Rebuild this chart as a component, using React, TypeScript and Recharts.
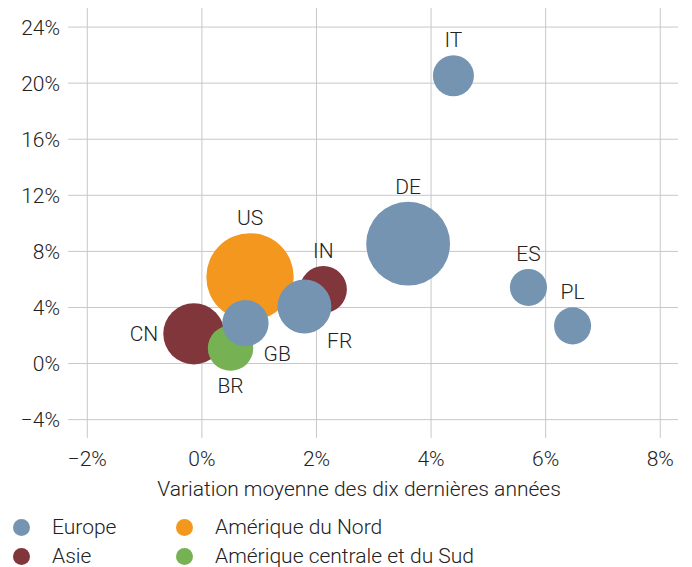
import { ScatterChart, Scatter, XAxis, YAxis, ZAxis, CartesianGrid } from 'recharts'

// position on the x axis: average change of the last ten years (%), y: current value (%), z: relative weight
const EUROPE = [
  { code: 'GB', x: 0.76, y: 2.88, z: 28 },
  { code: 'FR', x: 1.79, y: 4.07, z: 38 },
  { code: 'DE', x: 3.6, y: 8.55, z: 92 },
  { code: 'IT', x: 4.39, y: 20.53, z: 22 },
  { code: 'ES', x: 5.7, y: 5.43, z: 18 },
  { code: 'PL', x: 6.47, y: 2.69, z: 18 },
]
const ASIA = [
  { code: 'CN', x: -0.14, y: 2.12, z: 49 },
  { code: 'IN', x: 2.12, y: 5.28, z: 29 },
]
const NORTH_AMERICA = [{ code: 'US', x: 0.84, y: 6.18, z: 100 }]
const SOUTH_AMERICA = [{ code: 'BR', x: 0.5, y: 1.1, z: 27 }]

const X_TICKS = [-2, 0, 2, 4, 6, 8]
const Y_TICKS = [-4, 0, 4, 8, 12, 16, 20, 24]
const X_DOMAIN = [-2.337, 8.31]
const Y_DOMAIN = [-5.31, 25.36]

const COLORS = {
  europe: '#7594b2',
  asia: '#80363a',
  north: '#f4971f',
  south: '#76b153',
}

const LEGEND = [
  { name: 'Europe', color: COLORS.europe },
  { name: 'Amérique du Nord', color: COLORS.north },
  { name: 'Asie', color: COLORS.asia },
  { name: 'Amérique centrale et du Sud', color: COLORS.south },
]

// where each country code sits relative to its bubble
const LABEL_PLACE: Record<string, string> = {
  CN: 'left',
  BR: 'bottom',
  FR: 'bottomRight',
  GB: 'bottomRight',
}

const FONT = 'Roboto, "Noto Sans", sans-serif'
const TEXT = '#222'

const fmt = (v: number) => (v < 0 ? `\u2212${Math.abs(v)}%` : `${v}%`)

// grid lines only at the tick values, no frame round the plot
const gridX = ({ xAxis, offset }: any) =>
  X_TICKS.map((t) =>
    xAxis && typeof xAxis.scale === 'function'
      ? xAxis.scale(t)
      : offset.left + ((t - X_DOMAIN[0]) / (X_DOMAIN[1] - X_DOMAIN[0])) * offset.width
  )
const gridY = ({ yAxis, offset }: any) =>
  Y_TICKS.map((t) =>
    yAxis && typeof yAxis.scale === 'function'
      ? yAxis.scale(t)
      : offset.top + ((Y_DOMAIN[1] - t) / (Y_DOMAIN[1] - Y_DOMAIN[0])) * offset.height
  )

const CodeLabel = (props: any) => {
  const { cx, cy, payload, width, size } = props
  const r = width ? width / 2 : Math.sqrt((size || 0) / Math.PI)
  const place = LABEL_PLACE[payload.code] ?? 'top'
  let x = cx
  let y = cy - r - 15
  let anchor: 'middle' | 'end' = 'middle'
  if (place === 'bottom') y = cy + r + 15
  if (place === 'left') {
    x = cx - r - 5
    y = cy
    anchor = 'end'
  }
  if (place === 'bottomRight') {
    x = cx + r * 0.9 + 11
    y = cy + r * 0.9 + 10
  }
  return (
    <text x={x} y={y} textAnchor={anchor} dominantBaseline="central" fill={TEXT} fontSize={21} fontWeight={300} fontFamily={FONT}>
      {payload.code}
    </text>
  )
}

const App = () => {
  const all = [...ASIA, ...SOUTH_AMERICA, ...NORTH_AMERICA, ...EUROPE]
  return (
    <div style={{ width: 676, fontFamily: FONT }}>
      <ScatterChart width={676} height={500} margin={{ top: 0, right: 6, bottom: 0, left: 0 }}>
        <CartesianGrid
          stroke="#c8c8c8"
          strokeWidth={1}
          verticalCoordinatesGenerator={gridX}
          horizontalCoordinatesGenerator={gridY}
        />
        <XAxis
          type="number"
          dataKey="x"
          domain={X_DOMAIN}
          ticks={X_TICKS}
          tickFormatter={fmt}
          axisLine={false}
          tickLine={false}
          tickMargin={7}
          height={70}
          tick={{ fontSize: 21, fill: TEXT, fontWeight: 300, fontFamily: FONT }}
          label={{
            value: 'Variation moyenne des dix dernières années',
            position: 'insideBottom',
            offset: 12,
            dx: -14,
            style: { fontSize: 21, fill: TEXT, fontWeight: 300, fontFamily: FONT },
          }}
        />
        <YAxis
          type="number"
          dataKey="y"
          domain={Y_DOMAIN}
          ticks={Y_TICKS}
          tickFormatter={fmt}
          axisLine={false}
          tickLine={false}
          width={60}
          tick={{ fontSize: 21, fill: TEXT, fontWeight: 300, fontFamily: FONT }}
        />
        <ZAxis type="number" dataKey="z" domain={[0, 100]} range={[0, 6000]} />
        <Scatter name="Asie" data={ASIA} fill={COLORS.asia} isAnimationActive={false} />
        <Scatter name="Amérique centrale et du Sud" data={SOUTH_AMERICA} fill={COLORS.south} isAnimationActive={false} />
        <Scatter name="Amérique du Nord" data={NORTH_AMERICA} fill={COLORS.north} isAnimationActive={false} />
        <Scatter name="Europe" data={EUROPE} fill={COLORS.europe} isAnimationActive={false} />
        <Scatter name="labels" data={all} legendType="none" shape={CodeLabel} isAnimationActive={false} />
      </ScatterChart>
      <div
        style={{
          display: 'grid',
          gridTemplateColumns: '163px auto',
          rowGap: 7,
          marginTop: 8,
          paddingLeft: 5,
          fontSize: 21,
          fontWeight: 300,
          color: TEXT,
        }}
      >
        {LEGEND.map((l) => (
          <div key={l.name} style={{ display: 'flex', alignItems: 'center', height: 22 }}>
            <span
              style={{
                width: 17,
                height: 17,
                borderRadius: '50%',
                background: l.color,
                display: 'inline-block',
                marginRight: 22,
              }}
            />
            {l.name}
          </div>
        ))}
      </div>
    </div>
  )
}

export default App
